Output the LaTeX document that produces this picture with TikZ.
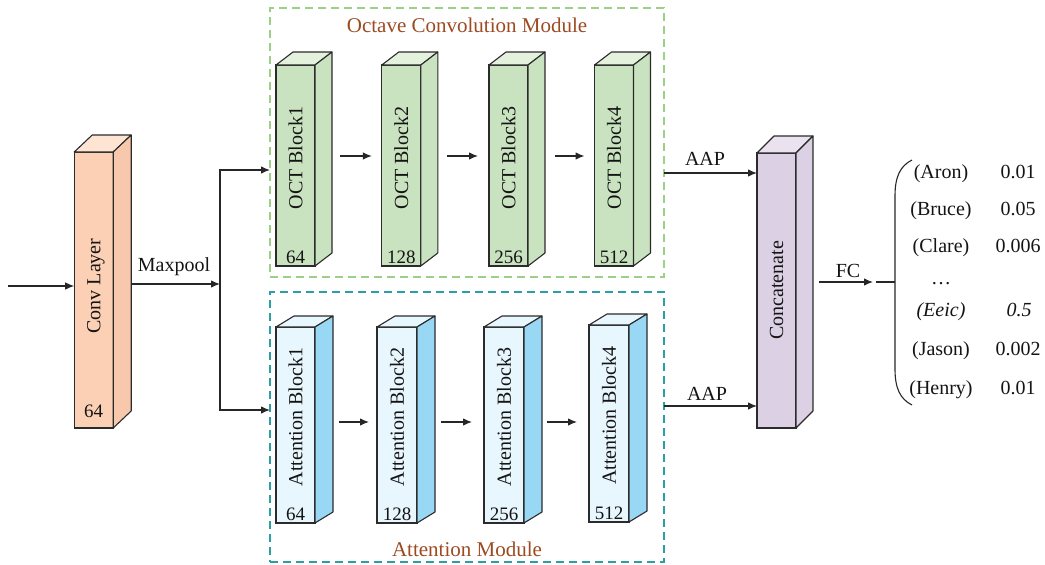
\documentclass[tikz,border=0pt]{standalone}
\usepackage{fontspec}
\setmainfont{Liberation Serif}
\usetikzlibrary{arrows.meta,calc}
\definecolor{convfront}{HTML}{FBD0B4}
\definecolor{convtop}{HTML}{FDE4D3}
\definecolor{convside}{HTML}{F8C8AC}
\definecolor{octfront}{HTML}{C9E2BF}
\definecolor{octtop}{HTML}{E4F1DC}
\definecolor{octside}{HTML}{C9E2BF}
\definecolor{attfront}{HTML}{E8F6FD}
\definecolor{atttop}{HTML}{E8F6FD}
\definecolor{attside}{HTML}{99D8F4}
\definecolor{catfront}{HTML}{DCD1E4}
\definecolor{cattop}{HTML}{EAE3EF}
\definecolor{catside}{HTML}{DCD1E4}
\definecolor{titlecol}{HTML}{9C4A22}
\definecolor{greendash}{HTML}{9CCF88}
\definecolor{cyandash}{HTML}{2A9FA6}
\definecolor{edgecol}{HTML}{2B2B2B}
\newcommand{\blockthreed}[7]{%
  \node[face, fill=#5front, minimum width=#3pt, minimum height=#4pt] (#1) at #2 {};
  \filldraw[edge, fill=#5top] (#1.north west) -- ++(#6,-#7) -- ++(#3,0) -- (#1.north east) -- cycle;
  \filldraw[edge, fill=#5side] (#1.north east) -- ++(#6,-#7) -- ++(0,#4) -- (#1.south east) -- cycle;
}
\tikzset{
  face/.style={draw=edgecol, line width=1.1pt, inner sep=0pt, outer sep=0pt},
  edge/.style={draw=edgecol, line width=1.1pt, line join=round},
  lbl/.style={font=\fontsize{20}{24}\selectfont, text=black!92, inner sep=0pt, text depth=0pt},
  num/.style={font=\fontsize{19}{22}\selectfont, text=black!92, inner sep=0pt},
  txt/.style={font=\fontsize{20}{24}\selectfont, text=black!92, inner sep=0pt},
  ttl/.style={font=\fontsize{21}{25}\selectfont, text=titlecol, inner sep=0pt},
  arr/.style={-{Latex[length=9pt,width=7.5pt]}, line width=1.1pt, draw=black!85},
  ln/.style={line width=1.1pt, draw=black!85},
  modbox/.style={line width=1.1pt, dash pattern=on 8pt off 5pt, inner sep=0pt, outer sep=0pt},
}
\begin{document}
\begin{tikzpicture}[x=1pt,y=-1pt]
\useasboundingbox (0,0) rectangle (1045,565);

% module frames
\node[modbox, draw=greendash, minimum width=394pt, minimum height=269pt] (octmod) at (467,142.5) {};
\node[modbox, draw=cyandash, minimum width=394pt, minimum height=270pt] (attmod) at (467,427) {};
\node[ttl, anchor=base] (octtitle) at (467,32) {Octave Convolution Module};
\node[ttl, anchor=base] (atttitle) at (467,556) {Attention Module};

% conv layer
\blockthreed{conv}{(93.7,290)}{39}{276}{conv}{18}{17}
\node[lbl, rotate=90] (convl) at ($(conv)+(0,-4)$) {Conv Layer};
\node[num, anchor=base] (convn) at ($(conv.south)+(0,-11)$) {64};

% OCT blocks
\blockthreed{o1}{(295.5,165.5)}{39}{201}{oct}{17}{13}
\blockthreed{o2}{(401.3,165.5)}{39}{201}{oct}{17}{13}
\blockthreed{o3}{(508.5,165.5)}{39}{201}{oct}{17}{13}
\blockthreed{o4}{(614,165.5)}{39}{201}{oct}{17}{13}
\node[lbl, rotate=90] (o1l) at ($(o1)+(0,-7.5)$) {OCT Block1};
\node[lbl, rotate=90] (o2l) at ($(o2)+(0,-7.5)$) {OCT Block2};
\node[lbl, rotate=90] (o3l) at ($(o3)+(0,-7.5)$) {OCT Block3};
\node[lbl, rotate=90] (o4l) at ($(o4)+(0,-7.5)$) {OCT Block4};
\node[num, anchor=base] (o1n) at ($(o1.south)+(0,-3)$) {64};
\node[num, anchor=base] (o2n) at ($(o2.south)+(0,-3)$) {128};
\node[num, anchor=base] (o3n) at ($(o3.south)+(0,-3)$) {256};
\node[num, anchor=base] (o4n) at ($(o4.south)+(0,-3)$) {512};

% Attention blocks
\blockthreed{a1}{(295.5,425)}{39}{196}{att}{18}{11}
\blockthreed{a2}{(397,425)}{40}{196}{att}{18}{11}
\blockthreed{a3}{(504,425)}{40}{196}{att}{18}{11}
\blockthreed{a4}{(609,423.5)}{40}{197}{att}{18}{11}
\node[lbl, rotate=90] (a1l) at ($(a1)+(0,-8)$) {Attention Block1};
\node[lbl, rotate=90] (a2l) at ($(a2)+(0,-8)$) {Attention Block2};
\node[lbl, rotate=90] (a3l) at ($(a3)+(0,-8)$) {Attention Block3};
\node[lbl, rotate=90] (a4l) at ($(a4)+(0,-8)$) {Attention Block4};
\node[num, anchor=base] (a1n) at ($(a1.south)+(0,-3)$) {64};
\node[num, anchor=base] (a2n) at ($(a2.south)+(0,-3)$) {128};
\node[num, anchor=base] (a3n) at ($(a3.south)+(0,-3)$) {256};
\node[num, anchor=base] (a4n) at ($(a4.south)+(0,-3)$) {512};

% concatenate
\blockthreed{cat}{(776.5,290.5)}{39}{275}{cat}{17}{17}
\node[lbl, rotate=90] (catl) at (cat) {Concatenate};

% input and maxpool
\coordinate (in) at (8,286);
\draw[arr] (in) -- (in -| conv.west);
\coordinate (mpstart) at ($(conv.east)+(18,-6)$);
\coordinate (split) at (220,284);
\draw[arr] (mpstart) -- (split);
\node[txt, anchor=base] (mpl) at (174,271) {Maxpool};
\coordinate (ya) at (0,170);
\coordinate (yb) at (0,410);
\draw[arr] (split) |- (octmod.west |- ya);
\draw[arr] (split) |- (attmod.west |- yb);

% block chains
\draw[arr] ([xshift=25pt,yshift=9.5pt]o1.east) -- ([xshift=-10pt,yshift=9.5pt]o2.west);
\draw[arr] ([xshift=26pt,yshift=9.5pt]o2.east) -- ([xshift=-11pt,yshift=9.5pt]o3.west);
\draw[arr] ([xshift=27pt,yshift=9.5pt]o3.east) -- ([xshift=-10pt,yshift=9.5pt]o4.west);
\draw[arr] ([xshift=24pt,yshift=3pt]a1.east) -- ([xshift=-8pt,yshift=3pt]a2.west);
\draw[arr] ([xshift=24pt,yshift=3pt]a2.east) -- ([xshift=-12pt,yshift=3pt]a3.west);
\draw[arr] ([xshift=23pt,yshift=3pt]a3.east) -- ([xshift=-12pt,yshift=1.5pt]a4.west);

% AAP
\coordinate (yc) at (0,173);
\coordinate (yd) at (0,406);
\draw[arr] (octmod.east |- yc) -- (cat.west |- yc);
\draw[arr] (attmod.east |- yd) -- (cat.west |- yd);
\node[txt, anchor=base] (aap1) at (705,165) {AAP};
\node[txt, anchor=base] (aap2) at (707,400) {AAP};

% FC
\coordinate (fcstart) at ($(cat.east)+(23,-8.5)$);
\coordinate (fcend) at (873,282);
\coordinate (fcgap) at (876,282);
\coordinate (bracemid) at (895,282);
\draw[arr] (fcstart) -- (fcend);
\draw[ln] (fcgap) -- (bracemid);
\node[txt, anchor=base] (fcl) at (848,277) {FC};
\draw[ln] (912,160) .. controls (900,166) and (895,177) .. (895,196) -- (bracemid) -- (895,369) .. controls (895,388) and (900,399) .. (912,405);

% outputs
\node[txt, anchor=base] (n1) at (941,178) {(Aron)};
\node[txt, anchor=base] (v1) at (1018,178) {0.01};
\node[txt, anchor=base] (n2) at (941,215) {(Bruce)};
\node[txt, anchor=base] (v2) at (1018,215) {0.05};
\node[txt, anchor=base] (n3) at (941,252) {(Clare)};
\node[txt, anchor=base] (v3) at (1018,252) {0.006};
\node[txt, anchor=base] (n4) at (941,284) {\dots};
\node[txt, anchor=base] (n5) at (941,316) {\itshape (Eeic)};
\node[txt, anchor=base] (v5) at (1019,316) {\itshape 0.5};
\node[txt, anchor=base] (n6) at (941,355) {(Jason)};
\node[txt, anchor=base] (v6) at (1018,355) {0.002};
\node[txt, anchor=base] (n7) at (941,394) {(Henry)};
\node[txt, anchor=base] (v7) at (1018,394) {0.01};
\end{tikzpicture}
\end{document}
